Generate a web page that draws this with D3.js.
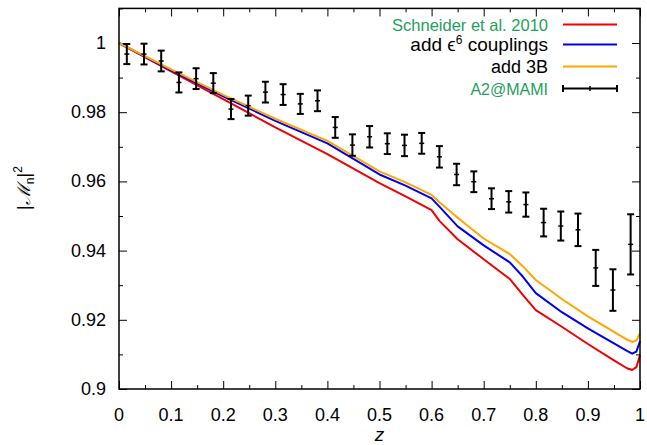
<!DOCTYPE html>
<html>
<head>
<meta charset="utf-8">
<script src="https://cdn.jsdelivr.net/npm/d3@7"></script>
<style>
body { margin:0; background:#fff; }
svg { font-family: "Liberation Sans", Arial, sans-serif; }
</style>
</head>
<body>
<div id="chart"></div>
<script>
// curve grid and the three theory curves
var zCurve = [0, 0.1, 0.2, 0.3, 0.4, 0.5, 0.55, 0.6, 0.615, 0.65, 0.7, 0.75, 0.775, 0.8, 0.85, 0.9, 0.95, 0.975, 0.985, 0.993, 1.0]
var schneider = [1.0, 0.9918, 0.9838, 0.9756, 0.9679, 0.9595, 0.9557, 0.9517, 0.9486, 0.9433, 0.9375, 0.9318, 0.9272, 0.9228, 0.9180, 0.9130, 0.9083, 0.9060, 0.9055, 0.9063, 0.9098]
var eps6 = [1.0, 0.9921, 0.9846, 0.9775, 0.9710, 0.9620, 0.9588, 0.9551, 0.9527, 0.9470, 0.9415, 0.9366, 0.9325, 0.9277, 0.9222, 0.9175, 0.9132, 0.9110, 0.9102, 0.9108, 0.9138]
var threeB = [1.0, 0.9924, 0.9850, 0.9781, 0.9717, 0.9629, 0.9597, 0.9561, 0.9540, 0.9495, 0.9435, 0.9390, 0.9355, 0.9315, 0.9260, 0.9210, 0.9165, 0.9143, 0.9136, 0.9140, 0.9162]

// A2@MAMI points
var zData = [0.015, 0.048, 0.081, 0.115, 0.148, 0.181, 0.215, 0.248, 0.281, 0.315, 0.348, 0.381, 0.415, 0.448, 0.481, 0.515, 0.548, 0.581, 0.615, 0.648, 0.681, 0.715, 0.748, 0.781, 0.815, 0.848, 0.881, 0.915, 0.948, 0.982]
var mami = [0.9968, 0.9968, 0.9948, 0.9886, 0.9897, 0.9884, 0.9809, 0.9819, 0.9858, 0.9851, 0.9824, 0.9833, 0.9756, 0.9705, 0.9729, 0.9709, 0.9704, 0.9710, 0.9671, 0.9620, 0.9599, 0.9550, 0.9541, 0.9533, 0.9481, 0.9471, 0.9460, 0.9350, 0.9286, 0.9418]
var mamiErr = [0.0029, 0.0030, 0.0030, 0.0029, 0.0030, 0.0029, 0.0029, 0.0029, 0.0030, 0.0030, 0.0029, 0.0030, 0.0030, 0.0031, 0.0031, 0.0030, 0.0031, 0.0030, 0.0031, 0.0031, 0.0030, 0.0030, 0.0031, 0.0035, 0.0040, 0.0042, 0.0047, 0.0052, 0.0060, 0.0087]

var xTicks = [0, 0.1, 0.2, 0.3, 0.4, 0.5, 0.6, 0.7, 0.8, 0.9, 1]
var xTickLabels = ["0", "0.1", "0.2", "0.3", "0.4", "0.5", "0.6", "0.7", "0.8", "0.9", "1"]
var yTicks = [0.9, 0.92, 0.94, 0.96, 0.98, 1.0]
var yTickLabels = ["0.9", "0.92", "0.94", "0.96", "0.98", "1"]

var legendNames = ["Schneider et al. 2010", "add \u03f5", "add 3B", "A2@MAMI"]

var width = 647
var height = 445
var margin = {top:8.4, bottom:56, left:119, right:7}

var svg = d3.select("#chart").append("svg")
  .attr("width", width)
  .attr("height", height)

var x = d3.scaleLinear()
  .domain([0, 1])
  .range([margin.left, width - margin.right])

var y = d3.scaleLinear()
  .domain([0.9, 1.01])
  .range([height - margin.bottom, margin.top])

// ticks, inward on all four sides
var xMinor = d3.range(21).map(i => i * 0.05)
var yMinor = d3.range(12).map(i => 0.9 + i * 0.01)

function xAxis(g, top){
  g.attr('transform', `translate(0, ${top ? margin.top : height - margin.bottom})`)
  .call((top ? d3.axisTop(x) : d3.axisBottom(x)).tickValues(xMinor).tickFormat("").tickSizeInner(-4).tickSizeOuter(0))
  .call(g => g.selectAll(".tick line").filter(d => Math.abs(d * 10 - Math.round(d * 10)) < 1e-6).attr("y2", top ? 8 : -8))
  .call(g => g.select(".domain").remove())
}
function yAxis(g, right){
  g.attr('transform', `translate(${right ? width - margin.right : margin.left},0)`)
  .call((right ? d3.axisRight(y) : d3.axisLeft(y)).tickValues(yMinor).tickFormat("").tickSizeInner(-4).tickSizeOuter(0))
  .call(g => g.selectAll(".tick line").filter((d, i) => i % 2 == 0).attr("x2", right ? -8 : 8))
  .call(g => g.select(".domain").remove())
}
svg.append('g').call(xAxis, false)
svg.append('g').call(xAxis, true)
svg.append('g').call(yAxis, false)
svg.append('g').call(yAxis, true)
svg.selectAll(".tick line").attr("stroke", "#000").attr("stroke-width", 1)

svg.append("g").selectAll("text")
  .data(xTicks)
  .join("text")
  .attr("x", d => x(d))
  .attr("y", height - margin.bottom + 32)
  .attr("text-anchor", "middle")
  .attr("font-size", 18)
  .text((d, i) => xTickLabels[i])

svg.append("g").selectAll("text")
  .data(yTicks)
  .join("text")
  .attr("x", margin.left - 13)
  .attr("y", d => y(d) + 6)
  .attr("text-anchor", "end")
  .attr("font-size", 18)
  .text((d, i) => yTickLabels[i])

// axis titles
svg.append("text")
  .attr("x", x(0.5))
  .attr("y", 441)
  .attr("text-anchor", "middle")
  .attr("font-size", 19)
  .attr("font-style", "italic")
  .text("z")

var yl = svg.append("text")
  .attr("transform", `translate(30, 188) rotate(-90)`)
  .attr("text-anchor", "middle")
  .attr("font-size", 18)
yl.append("tspan").text("|")
yl.append("tspan").attr("font-family", "DejaVu Serif").attr("font-style", "italic").text("\u2133")
yl.append("tspan").attr("font-size", 12).attr("dy", 4).text("n")
yl.append("tspan").attr("dy", -4).text("|")
yl.append("tspan").attr("font-size", 12).attr("dy", -8).text("2")

// curves
var curveData = [schneider, eps6, threeB]
var colors = ["#f00000", "#0000f0", "#ffa500"]
var line = d3.line()
  .x((d, i) => x(zCurve[i]))
  .y(d => y(d))

svg.append("g").selectAll("path")
  .data(curveData)
  .join("path")
  .attr("d", d => line(d))
  .attr("fill", "none")
  .attr("stroke", (d, i) => colors[i])
  .attr("stroke-width", 2)
  .attr("stroke-linejoin", "round")

// error bars
var bars = svg.append("g").attr("stroke", "#000").attr("stroke-width", 2)
zData.forEach(function(z, i){
  var cx = x(z)
  var y0 = y(mami[i] - mamiErr[i])
  var y1 = y(mami[i] + mamiErr[i])
  bars.append("line").attr("x1", cx).attr("x2", cx).attr("y1", y0).attr("y2", y1)
  bars.append("line").attr("x1", cx - 3.5).attr("x2", cx + 3.5).attr("y1", y0).attr("y2", y0)
  bars.append("line").attr("x1", cx - 3.5).attr("x2", cx + 3.5).attr("y1", y1).attr("y2", y1)
  bars.append("line").attr("x1", cx - 2.5).attr("x2", cx + 2.5).attr("y1", y(mami[i])).attr("y2", y(mami[i])).attr("stroke-width", 1.5)
})

// frame
svg.append("rect")
  .attr("x", margin.left)
  .attr("y", margin.top)
  .attr("width", width - margin.left - margin.right)
  .attr("height", height - margin.top - margin.bottom)
  .attr("fill", "none")
  .attr("stroke", "#000")
  .attr("stroke-width", 1.5)

// legend
var green = "#1fa060"
var legY = [24.5, 44.5, 66.5, 88.5]
var leg = svg.append("g")
legendNames.forEach(function(name, i){
  var t = leg.append("text")
    .attr("x", 548)
    .attr("y", legY[i] + 6)
    .attr("text-anchor", "end")
    .attr("font-size", i == 0 ? 16.5 : (i == 1 ? 19 : (i == 3 ? 16 : 18)))
    .attr("fill", (i == 0 || i == 3) ? green : "#000")
  if (i == 1) {
    t.append("tspan").text(name)
    t.append("tspan").attr("font-size", 12).attr("dy", -7).text("6")
    t.append("tspan").attr("dy", 7).text(" couplings")
  } else {
    t.text(name)
  }
  if (i < 3) {
    leg.append("line").attr("x1", 563).attr("x2", 617).attr("y1", legY[i]).attr("y2", legY[i])
      .attr("stroke", colors[i]).attr("stroke-width", 2)
  } else {
    leg.append("line").attr("x1", 563).attr("x2", 617).attr("y1", legY[i]).attr("y2", legY[i]).attr("stroke", "#000").attr("stroke-width", 2)
    leg.append("line").attr("x1", 563).attr("x2", 563).attr("y1", legY[i] - 3.5).attr("y2", legY[i] + 3.5).attr("stroke", "#000").attr("stroke-width", 2)
    leg.append("line").attr("x1", 617).attr("x2", 617).attr("y1", legY[i] - 3.5).attr("y2", legY[i] + 3.5).attr("stroke", "#000").attr("stroke-width", 2)
    leg.append("line").attr("x1", 590).attr("x2", 590).attr("y1", legY[i] - 2.5).attr("y2", legY[i] + 2.5).attr("stroke", "#000").attr("stroke-width", 1.5)
  }
})
</script>
</body>
</html>
